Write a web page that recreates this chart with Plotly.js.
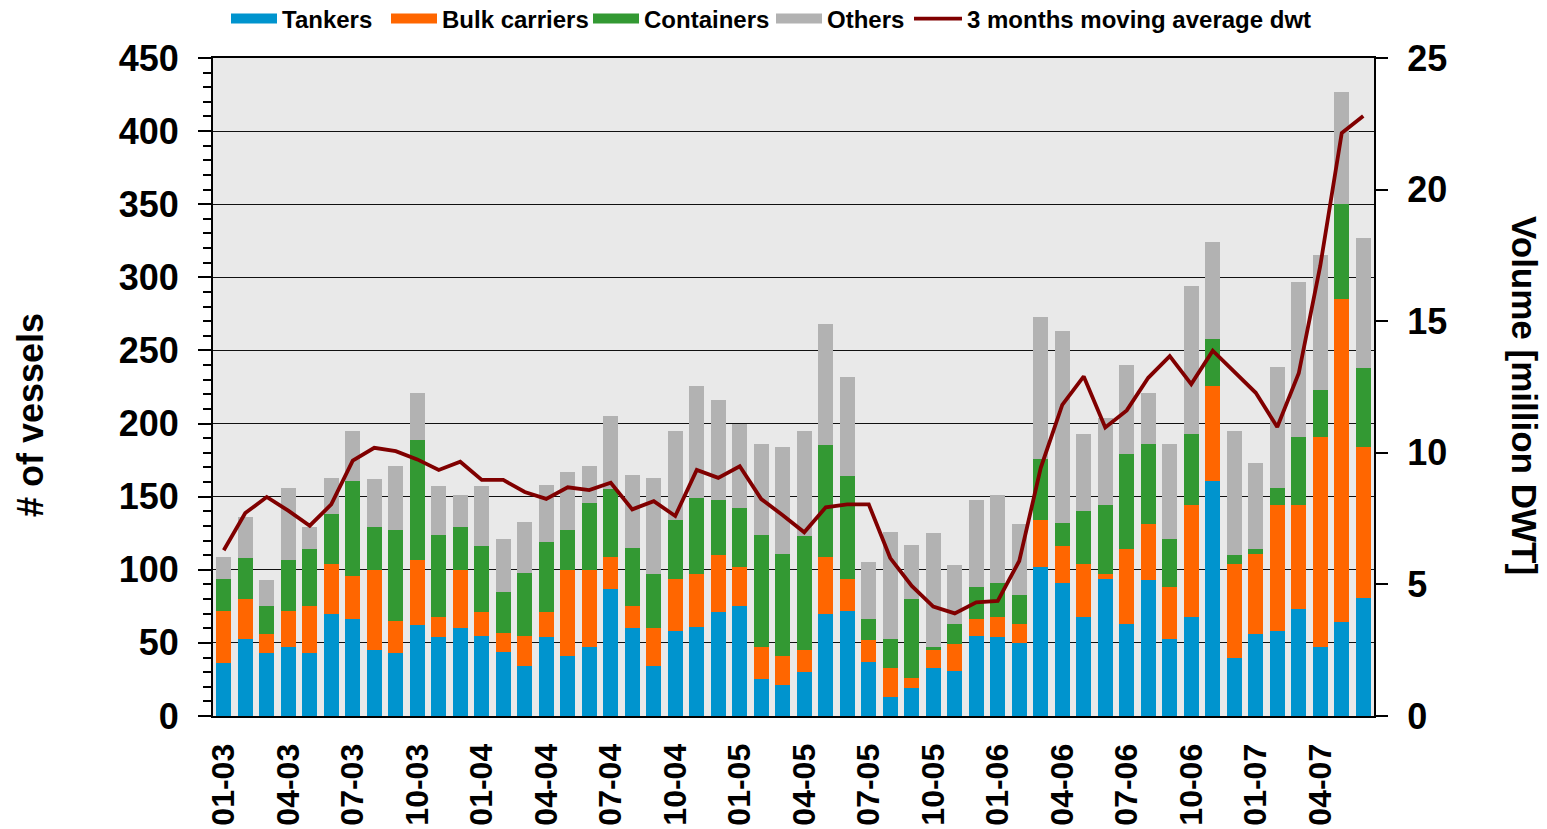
<!DOCTYPE html>
<html>
<head>
<meta charset="utf-8">
<script src="https://cdn.plot.ly/plotly-3.0.1.min.js"></script>
<style>
  html, body { margin: 0; padding: 0; background: #ffffff; }
  #chart { width: 1547px; height: 829px; }
</style>
</head>
<body>
<div id="chart"></div>
<script>
// Month labels (MM-YY)
const months = [
  "01-03","02-03","03-03","04-03","05-03","06-03","07-03","08-03","09-03","10-03","11-03","12-03",
  "01-04","02-04","03-04","04-04","05-04","06-04","07-04","08-04","09-04","10-04","11-04","12-04",
  "01-05","02-05","03-05","04-05","05-05","06-05","07-05","08-05","09-05","10-05","11-05","12-05",
  "01-06","02-06","03-06","04-06","05-06","06-06","07-06","08-06","09-06","10-06","11-06","12-06",
  "01-07","02-07","03-07","04-07","05-07","06-07"
];

// Number of vessels per segment (stacked)
const tankers = [
  36,53,43,47,43,70,66,45,43,62,54,60,
  55,44,34,54,41,47,87,60,34,58,61,71,
  75,25,21,30,70,72,37,13,19,33,31,55,
  54,50,102,91,68,94,63,93,53,68,161,40,
  56,58,73,47,64,81
];
const bulkCarriers = [
  36,27,13,25,32,34,30,55,22,45,14,40,
  16,13,21,17,59,53,22,15,26,36,36,39,
  27,22,20,15,39,22,15,20,7,12,18,11,
  14,13,32,25,36,3,51,38,35,76,65,64,
  55,86,71,144,221,103
];
const containers = [
  22,28,19,35,39,34,65,29,62,82,56,29,
  45,28,43,48,27,46,46,40,37,40,52,38,
  40,77,70,78,76,70,14,20,54,2,14,22,
  23,20,42,16,36,47,65,55,33,49,32,6,
  3,12,47,32,65,54
];
const others = [
  15,28,18,49,15,25,34,33,44,32,33,22,
  41,36,35,39,40,25,50,50,66,61,77,68,
  58,62,73,72,83,68,39,73,37,78,40,60,
  60,48,97,131,53,60,61,35,65,101,66,85,
  59,83,106,92,77,89
];

// 3 months moving average dwt (million DWT)
const movingAvgDwt = [
  6.3,7.71,8.32,7.80,7.23,8.04,9.70,10.19,10.06,9.75,9.35,9.66,
  8.97,8.97,8.51,8.25,8.69,8.58,8.86,7.85,8.16,7.60,9.35,9.05,
  9.49,8.24,7.63,6.98,7.93,8.04,8.04,6.00,4.94,4.16,3.90,4.32,
  4.37,5.89,9.43,11.82,12.90,10.96,11.61,12.85,13.67,12.61,13.88,13.10,
  12.28,10.98,13.02,17.1,22.15,22.8
];

const seriesNames = ["Tankers", "Bulk carriers", "Containers", "Others"];
const seriesColors = ["#0094CE", "#FF6600", "#339933", "#B2B2B2"];
const seriesData = [tankers, bulkCarriers, containers, others];
const lineName = "3 months moving average dwt";
const lineColor = "#800000";

const tickLabels = months.filter((m, i) => i % 3 === 0);

const FONT = "Liberation Sans, Arial, sans-serif";

// legend entry left positions (px, container)
const legendX = [226, 386, 588, 771, 909];
const legendIds = ["legend", "legend2", "legend3", "legend4", "legend5"];

const traces = [];
seriesData.forEach((vals, k) => {
  traces.push({
    type: "bar",
    name: seriesNames[k],
    x: months,
    y: vals,
    marker: { color: seriesColors[k], line: { width: 0 } },
    showlegend: false,
    hoverinfo: "x+y+name"
  });
});
// legend swatches
seriesNames.forEach((n, k) => {
  traces.push({
    type: "scatter",
    mode: "lines",
    name: n,
    x: [null],
    y: [null],
    line: { color: seriesColors[k], width: 14 },
    showlegend: true,
    legend: legendIds[k],
    hoverinfo: "skip"
  });
});
traces.push({
  type: "scatter",
  mode: "lines",
  name: lineName,
  x: months,
  y: movingAvgDwt,
  yaxis: "y2",
  line: { color: lineColor, width: 3.8 },
  showlegend: true,
  legend: legendIds[4]
});

function legendDef(i, w) {
  return {
    orientation: "h",
    xref: "container",
    yref: "container",
    x: legendX[i] / 1547,
    xanchor: "left",
    y: 1 - 19 / 829,
    yanchor: "middle",
    itemwidth: w,
    font: { family: FONT, size: 24, weight: "bold", color: "#000" },
    bgcolor: "rgba(0,0,0,0)"
  };
}

const layout = {
  width: 1547,
  height: 829,
  margin: { l: 213, r: 173, t: 58, b: 113, pad: 0 },
  paper_bgcolor: "#ffffff",
  plot_bgcolor: "#E9E9E9",
  barmode: "stack",
  bargap: 0.28,
  font: { family: FONT, color: "#000000" },
  showlegend: true,
  legend: legendDef(0, 46),
  legend2: legendDef(1, 46),
  legend3: legendDef(2, 46),
  legend4: legendDef(3, 46),
  legend5: legendDef(4, 48),
  xaxis: {
    type: "category",
    tickmode: "array",
    tickvals: tickLabels,
    ticktext: tickLabels,
    tickangle: -90,
    ticks: "",
    ticklabelstandoff: 13,
    tickfont: { family: FONT, size: 32, weight: "bold", color: "#000" },
    showgrid: false,
    showline: true,
    linecolor: "#000",
    linewidth: 2,
    mirror: true,
    zeroline: false,
    range: [-0.5, 53.5],
    automargin: false
  },
  yaxis: {
    range: [0, 450],
    dtick: 50,
    tick0: 0,
    ticks: "outside",
    ticklen: 13,
    tickwidth: 1.5,
    tickcolor: "#000",
    minor: { dtick: 10, ticks: "outside", ticklen: 8, tickwidth: 1.5, tickcolor: "#000", showgrid: false },
    showgrid: true,
    gridcolor: "#111111",
    gridwidth: 1.2,
    showline: true,
    linecolor: "#000",
    linewidth: 2,
    zeroline: false,
    ticklabelstandoff: 12,
    tickfont: { family: FONT, size: 36, weight: "bold", color: "#000" },
    automargin: false
  },
  yaxis2: {
    overlaying: "y",
    side: "right",
    range: [0, 25],
    dtick: 5,
    tick0: 0,
    ticks: "outside",
    ticklen: 12,
    tickwidth: 1.5,
    tickcolor: "#000",
    showgrid: false,
    showline: true,
    linecolor: "#000",
    linewidth: 2,
    zeroline: false,
    ticklabelstandoff: 12,
    tickfont: { family: FONT, size: 36, weight: "bold", color: "#000" },
    automargin: false
  },
  annotations: [{
    text: "# of vessels",
    xref: "paper",
    yref: "paper",
    x: (30 - 213) / 1161,
    y: (716 - 415) / 658,
    xanchor: "center",
    yanchor: "middle",
    textangle: -90,
    showarrow: false,
    font: { family: FONT, size: 36, weight: "bold", color: "#000" }
  }, {
    text: "Volume [million DWT]",
    xref: "paper",
    yref: "paper",
    x: (1525 - 213) / 1161,
    y: (716 - 395) / 658,
    xanchor: "center",
    yanchor: "middle",
    textangle: 90,
    showarrow: false,
    font: { family: FONT, size: 35, weight: "bold", color: "#000" }
  }]
};

Plotly.newPlot("chart", traces, layout, { displayModeBar: false, responsive: false });
</script>
</body>
</html>
